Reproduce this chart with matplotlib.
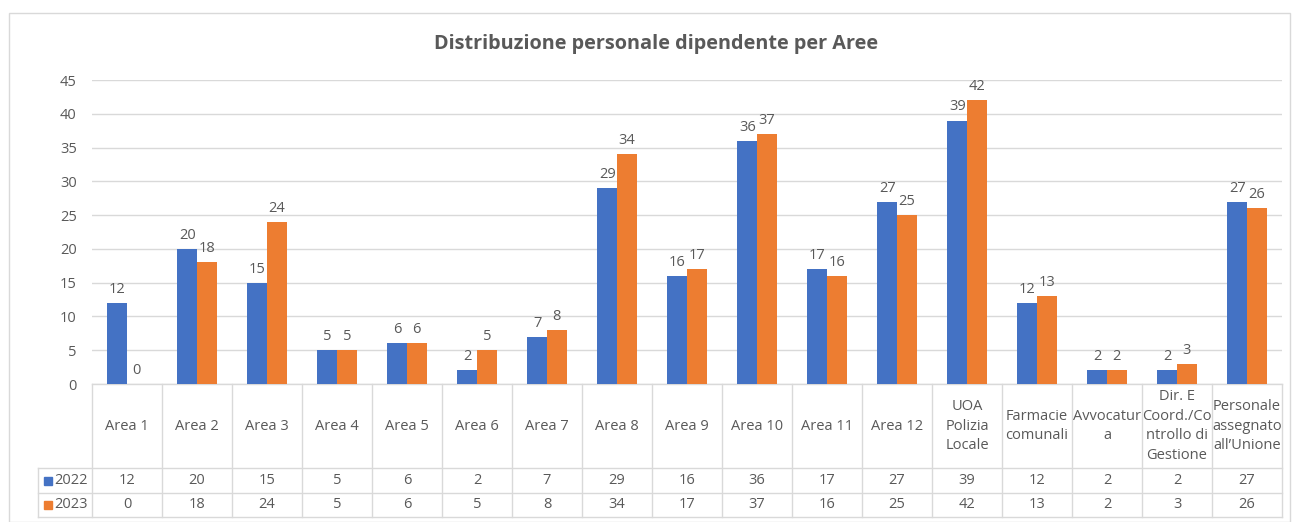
import matplotlib.pyplot as plt
import numpy as np
from matplotlib.patches import Rectangle

# Data
categories = ["Area 1", "Area 2", "Area 3", "Area 4", "Area 5", "Area 6", "Area 7",
              "Area 8", "Area 9", "Area 10", "Area 11", "Area 12",
              "UOA\nPolizia\nLocale", "Farmacie\ncomunali", "Avvocatur\na",
              "Dir. E\nCoord./Co\nntrollo di\nGestione", "Personale\nassegnato\nall\u2019Unione"]
values_2022 = [12, 20, 15, 5, 6, 2, 7, 29, 16, 36, 17, 27, 39, 12, 2, 2, 27]
values_2023 = [0, 18, 24, 5, 6, 5, 8, 34, 17, 37, 16, 25, 42, 13, 2, 3, 26]
series_names = ["2022", "2023"]

blue = '#4472C4'
orange = '#ED7D31'
grid_col = '#D9D9D9'
text_col = '#595959'
fs = 10.5

plt.rcParams['font.family'] = ['Open Sans', 'DejaVu Sans']

W, H = 1292, 522
fig = plt.figure(figsize=(W / 100, H / 100), dpi=100)

# outer chart border
fig.patches.append(Rectangle((9 / W, 0), (1290 - 9) / W, 1 - 13 / H,
                             transform=fig.transFigure, fill=False,
                             edgecolor=grid_col, lw=1))

x0, x1, y0, y1 = 92, 1282, 384, 80
ax = fig.add_axes([x0 / W, 1 - y0 / H, (x1 - x0) / W, (y0 - y1) / H])

x = np.arange(len(categories))
bw = 0.28
ax.bar(x - bw / 2, values_2022, bw, color=blue, zorder=3)
ax.bar(x + bw / 2, values_2023, bw, color=orange, zorder=3)

for i in range(len(categories)):
    ax.text(x[i] - bw / 2, values_2022[i] + 0.9, str(values_2022[i]), ha='center', va='bottom',
            fontsize=fs, color=text_col)
    ax.text(x[i] + bw / 2, values_2023[i] + 0.9, str(values_2023[i]), ha='center', va='bottom',
            fontsize=fs, color=text_col)

ax.set_xlim(-0.5, len(categories) - 0.5)
ax.set_ylim(0, 45)
ax.set_yticks(range(0, 46, 5))
ax.tick_params(axis='y', length=0, labelsize=fs, labelcolor=text_col, pad=11)
ax.set_xticks([])
ax.grid(axis='y', color=grid_col, lw=1, zorder=0)
for s in ax.spines.values():
    s.set_visible(False)

fig.text(656 / W, 1 - 44 / H, "Distribuzione personale dipendente per Aree",
         ha='center', va='center', fontsize=14.3, fontweight='bold', color=text_col)

# data table below the plot
tr = ax.get_xaxis_transform()
def ya(p):
    return (y0 - p) / (y0 - y1)

r1, r2, r3 = ya(468), ya(493), ya(517)
xl = (38 - x0) / 70 - 0.5
n = len(categories)
kw = dict(color=grid_col, lw=1, transform=tr, clip_on=False)
ax.plot([-0.5, n - 0.5], [0, 0], **kw)
for yy in (r1, r2, r3):
    ax.plot([xl, n - 0.5], [yy, yy], **kw)
for k in range(n + 1):
    ax.plot([k - 0.5, k - 0.5], [0, r3], **kw)
ax.plot([xl, xl], [r1, r3], **kw)

for i in range(n):
    ax.text(x[i], r1 / 2, categories[i], ha='center', va='center', fontsize=fs,
            color=text_col, transform=tr, linespacing=1.4)
    ax.text(x[i], (r1 + r2) / 2, str(values_2022[i]), ha='center', va='center',
            fontsize=fs, color=text_col, transform=tr)
    ax.text(x[i], (r2 + r3) / 2, str(values_2023[i]), ha='center', va='center',
            fontsize=fs, color=text_col, transform=tr)

for yy_top, yy_bot, col, name in [(r1, r2, blue, series_names[0]), (r2, r3, orange, series_names[1])]:
    ym = (yy_top + yy_bot) / 2
    sq_w = 8 / 70
    sq_h = 8 / (y0 - y1)
    ax.add_patch(Rectangle((xl + 6 / 70, ym - sq_h / 2), sq_w, sq_h, color=col,
                           transform=tr, clip_on=False))
    ax.text(xl + 16 / 70, ym, name, ha='left', va='center', fontsize=fs,
            color=text_col, transform=tr)

fig.savefig('out.png', dpi=100)
